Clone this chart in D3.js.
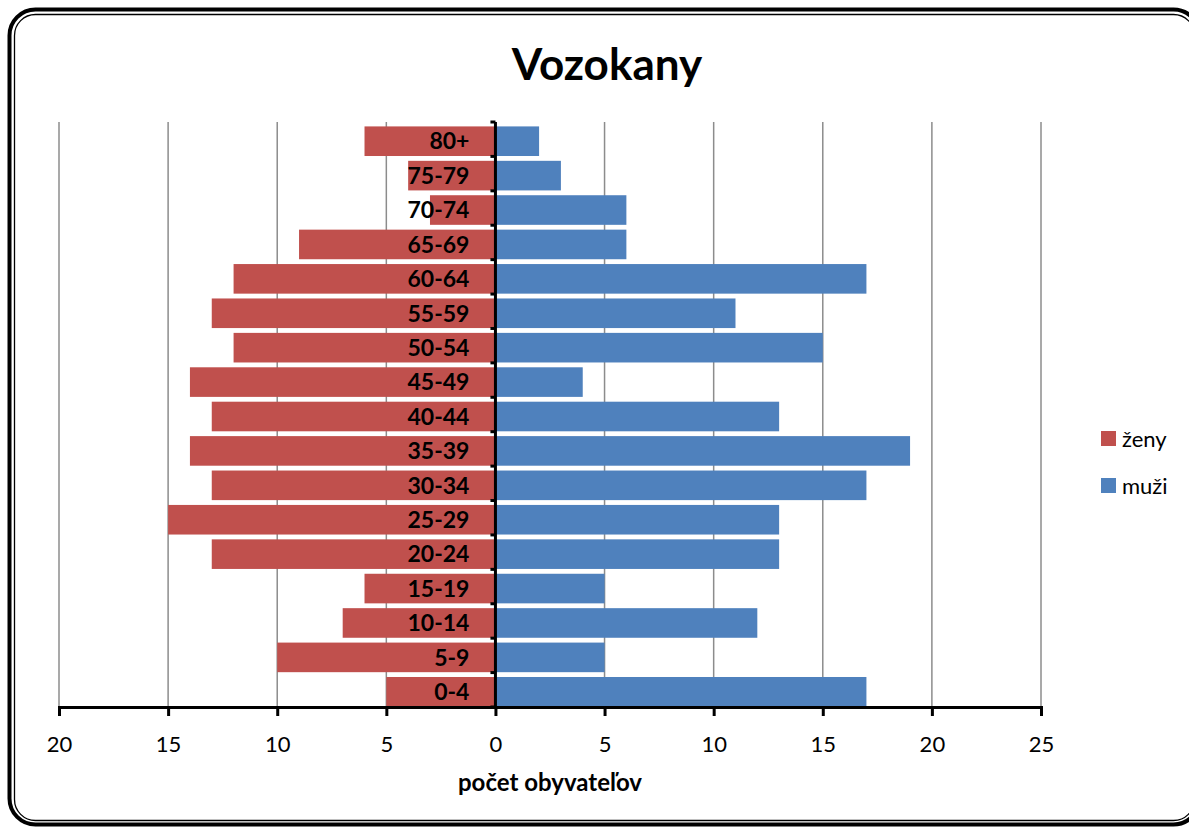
<!DOCTYPE html>
<html>
<head>
<meta charset="utf-8">
<script src="https://cdn.jsdelivr.net/npm/d3@7"></script>
<style>
  body { margin: 0; background: #fff; }
  svg { display: block; font-family: Lato, "Open Sans", sans-serif; }
</style>
</head>
<body>
<div id="container"></div>
<script>
const ageGroups = ["0-4", "5-9", "10-14", "15-19", "20-24", "25-29", "30-34", "35-39",
  "40-44", "45-49", "50-54", "55-59", "60-64", "65-69", "70-74", "75-79", "80+"];
const zeny = [5, 10, 7, 6, 13, 15, 13, 14, 13, 14, 12, 13, 12, 9, 3, 4, 6];
const muzi = [17, 5, 12, 5, 13, 13, 17, 19, 13, 4, 15, 11, 17, 6, 6, 3, 2];
const xTicks = [-20, -15, -10, -5, 0, 5, 10, 15, 20, 25];

const w = 1189;
const h = 827;
const plotLeft = 59, plotRight = 1041, plotTop = 122, plotBottom = 707;

const svg = d3.select("#container")
  .append("svg")
  .attr("width", w)
  .attr("height", h);

// frame
svg.append("rect")
  .attr("x", 9.5).attr("y", 9.5)
  .attr("width", 1190).attr("height", 815)
  .attr("rx", 26)
  .attr("fill", "none").attr("stroke", "#000").attr("stroke-width", 4);
svg.append("rect")
  .attr("x", 14.5).attr("y", 14.5)
  .attr("width", 1180).attr("height", 806)
  .attr("rx", 21)
  .attr("fill", "none").attr("stroke", "#000").attr("stroke-width", 1.3);

const x = d3.scaleLinear().domain([-20, 25]).range([plotLeft, plotRight]);
const y = d3.scaleBand().domain(ageGroups.slice().reverse()).range([plotTop + 2, plotBottom + 2]).paddingInner(0.14).paddingOuter(0.07);

// gridlines
svg.append("g")
  .selectAll("line")
  .data(xTicks.filter(d => d !== 0))
  .enter()
  .append("line")
  .attr("x1", d => x(d)).attr("x2", d => x(d))
  .attr("y1", plotTop).attr("y2", plotBottom)
  .attr("stroke", "#8c8c8c").attr("stroke-width", 1.5);

// bars
svg.append("g")
  .selectAll("rect")
  .data(ageGroups.map((a, i) => [a, zeny[i]]))
  .enter()
  .append("rect")
  .attr("x", d => x(-d[1]))
  .attr("y", d => y(d[0]))
  .attr("width", d => x(0) - x(-d[1]))
  .attr("height", y.bandwidth())
  .attr("fill", "#c0504d");

svg.append("g")
  .selectAll("rect")
  .data(ageGroups.map((a, i) => [a, muzi[i]]))
  .enter()
  .append("rect")
  .attr("x", x(0))
  .attr("y", d => y(d[0]))
  .attr("width", d => x(d[1]) - x(0))
  .attr("height", y.bandwidth())
  .attr("fill", "#4f81bd");

// x axis
const xAxis = svg.append("g")
  .attr("transform", `translate(0, ${plotBottom})`)
  .call(d3.axisBottom(x).tickValues(xTicks).tickSize(9).tickPadding(20).tickFormat(d => Math.abs(d)));
xAxis.select(".domain").attr("stroke-width", 3);
xAxis.selectAll(".tick line").attr("stroke-width", 3);
xAxis.selectAll("text").attr("font-size", 22).attr("fill", "#000").attr("font-family", "Lato, sans-serif");

// y axis (category ticks at boundaries)
const yAxisG = svg.append("g").attr("transform", `translate(${x(0)}, 0)`);
yAxisG.append("line")
  .attr("x1", 0).attr("x2", 0).attr("y1", plotTop).attr("y2", plotBottom)
  .attr("stroke", "#000").attr("stroke-width", 3);
const step = (plotBottom - plotTop) / ageGroups.length;
yAxisG.selectAll("line.tick")
  .data(d3.range(ageGroups.length + 1))
  .enter()
  .append("line")
  .attr("class", "tick")
  .attr("x1", -5).attr("x2", 0)
  .attr("y1", i => plotTop + i * step).attr("y2", i => plotTop + i * step)
  .attr("stroke", "#000").attr("stroke-width", 3);
yAxisG.selectAll("text")
  .data(ageGroups)
  .enter()
  .append("text")
  .attr("x", -26)
  .attr("y", d => y(d) + y.bandwidth() / 2)
  .attr("dy", "0.36em")
  .attr("text-anchor", "end")
  .attr("font-size", 23)
  .attr("font-weight", "bold")
  .text(d => d);

// title
svg.append("text")
  .attr("x", 607).attr("y", 80)
  .attr("text-anchor", "middle")
  .attr("font-size", 44)
  .attr("font-weight", "bold")
  .text("Vozokany");

// axis title
svg.append("text")
  .attr("x", (plotLeft + plotRight) / 2).attr("y", 791)
  .attr("text-anchor", "middle")
  .attr("font-size", 24)
  .attr("font-weight", "bold")
  .text("počet obyvateľov");

// legend
const legend = [["ženy", "#c0504d"], ["muži", "#4f81bd"]];
const lg = svg.append("g").selectAll("g").data(legend).enter().append("g")
  .attr("transform", (d, i) => `translate(1101, ${431 + i * 47})`);
lg.append("rect").attr("width", 15).attr("height", 15).attr("fill", d => d[1]);
lg.append("text").attr("x", 21).attr("y", 8).attr("dy", "0.36em")
  .attr("font-size", 22).text(d => d[0]);
</script>
</body>
</html>
